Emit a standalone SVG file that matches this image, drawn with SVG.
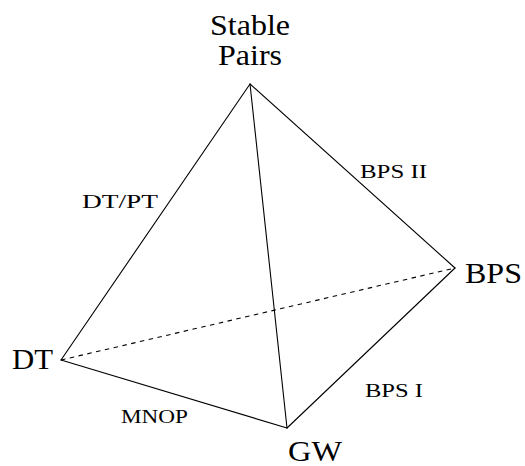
<svg xmlns="http://www.w3.org/2000/svg" width="525" height="466" viewBox="0 0 525 466">
  <style>
    .edge { stroke: #000; stroke-width: 1.1; fill: none; stroke-linecap: round; }
    .hidden { stroke-dasharray: 4.5 4.5; stroke-linecap: butt; }
    .big { font-family: 'Liberation Serif', 'DejaVu Serif', serif; font-size: 30px; fill: #000; }
    .small { font-family: 'Liberation Serif', 'DejaVu Serif', serif; font-size: 19px; fill: #000; }
  </style>
  <rect width="525" height="466" fill="#fff"/>

  <!-- tetrahedron edges; the hidden back edge is dashed -->
  <g id="edges">
    <line class="edge hidden" x1="61" y1="360" x2="455" y2="268"/>
    <line class="edge" x1="250" y1="84" x2="61" y2="360"/>
    <line class="edge" x1="250" y1="84" x2="287" y2="428"/>
    <line class="edge" x1="250" y1="84" x2="455" y2="268"/>
    <line class="edge" x1="61" y1="360" x2="287" y2="428"/>
    <line class="edge" x1="287" y1="428" x2="455" y2="268"/>
  </g>

  <!-- vertices -->
  <g id="stable-pairs">
    <text class="big" x="210" y="35" textLength="80" lengthAdjust="spacingAndGlyphs">Stable</text>
    <text class="big" x="218" y="65" textLength="64" lengthAdjust="spacingAndGlyphs">Pairs</text>
  </g>
  <g id="dt">
    <text class="big" x="12" y="369" textLength="41" lengthAdjust="spacingAndGlyphs">DT</text>
  </g>
  <g id="gw">
    <text class="big" x="288" y="461" textLength="54" lengthAdjust="spacingAndGlyphs">GW</text>
  </g>
  <g id="bps">
    <text class="big" x="465" y="283" textLength="57" lengthAdjust="spacingAndGlyphs">BPS</text>
  </g>

  <!-- edge labels -->
  <g id="edge-labels">
    <text class="small" x="82" y="208" textLength="76" lengthAdjust="spacingAndGlyphs">DT/PT</text>
    <text class="small" x="360" y="178" textLength="67" lengthAdjust="spacingAndGlyphs">BPS II</text>
    <text class="small" x="365" y="397" textLength="58" lengthAdjust="spacingAndGlyphs">BPS I</text>
    <text class="small" x="121" y="423" textLength="67" lengthAdjust="spacingAndGlyphs">MNOP</text>
  </g>
</svg>
